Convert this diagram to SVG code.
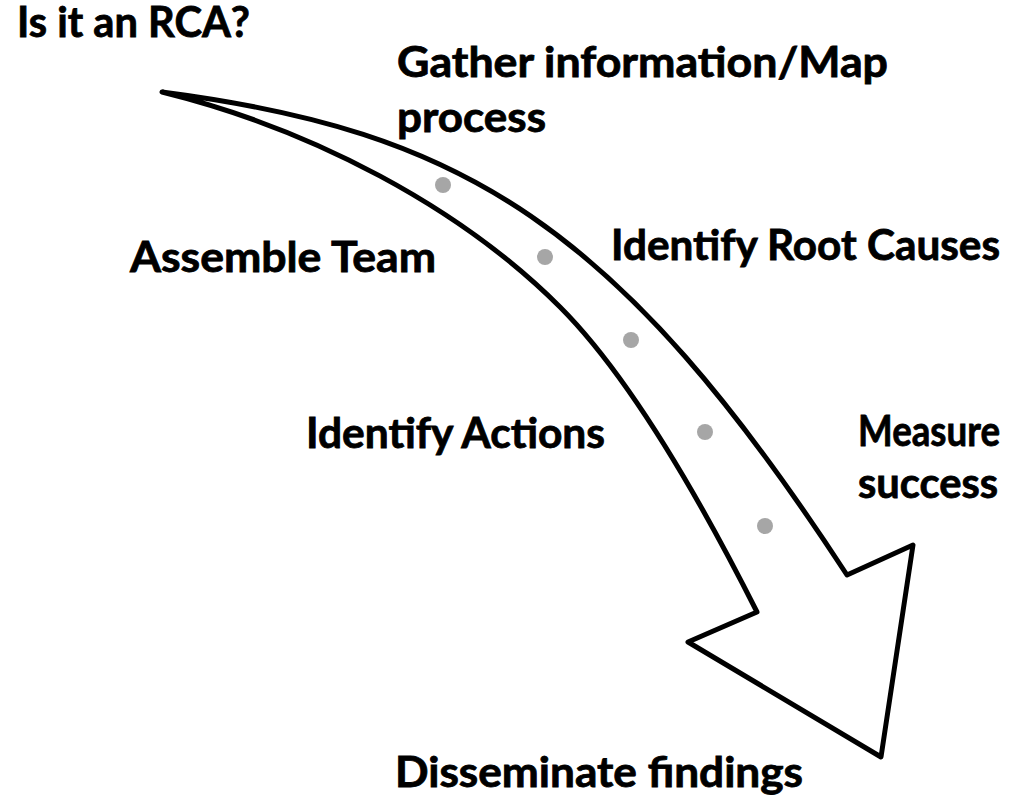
<svg xmlns="http://www.w3.org/2000/svg" width="1034" height="798" viewBox="0 0 1034 798">
  <style>
    .label { font-family: Lato, "Open Sans", "Liberation Sans", sans-serif; font-weight: 700; font-size: 42px; fill: #000; stroke: #000; stroke-width: 0.8; }
    .shaft { fill: #fff; stroke: #000; stroke-width: 5; stroke-linejoin: round; }
    .step { fill: #a6a6a6; }
  </style>
  <rect width="1034" height="798" fill="#fff"/>

  <!-- curved process arrow -->
  <g id="connectors">
    <path class="shaft" d="M 162,92 C 462,131 617,223 847,575 L 913,545 L 881,757 L 688,642 L 757,612 C 703,505 630,377 560,307 C 460,207 312,129 162,92 Z"/>
  </g>

  <!-- step markers along the arrow -->
  <g id="markers">
    <circle class="step" cx="443" cy="185" r="8"/>
    <circle class="step" cx="545" cy="257" r="8"/>
    <circle class="step" cx="631" cy="340" r="8"/>
    <circle class="step" cx="705" cy="432" r="8"/>
    <circle class="step" cx="765" cy="526" r="8"/>
  </g>

  <g id="step-rca">
    <text class="label" x="17" y="37" textLength="233" lengthAdjust="spacingAndGlyphs">Is it an RCA?</text>
  </g>
  <g id="step-gather">
    <text class="label" x="397" y="77" textLength="491" lengthAdjust="spacingAndGlyphs">Gather information/Map</text>
    <text class="label" x="397" y="132" textLength="149" lengthAdjust="spacingAndGlyphs">process</text>
  </g>
  <g id="step-team">
    <text class="label" x="130" y="272" textLength="306" lengthAdjust="spacingAndGlyphs">Assemble Team</text>
  </g>
  <g id="step-causes">
    <text class="label" x="611" y="260" textLength="389" lengthAdjust="spacingAndGlyphs">Identify Root Causes</text>
  </g>
  <g id="step-actions">
    <text class="label" x="306" y="448" textLength="299" lengthAdjust="spacingAndGlyphs">Identify Actions</text>
  </g>
  <g id="step-measure">
    <text class="label" x="858" y="446" textLength="142" lengthAdjust="spacingAndGlyphs">Measure</text>
    <text class="label" x="858" y="498" textLength="140" lengthAdjust="spacingAndGlyphs">success</text>
  </g>
  <g id="step-disseminate">
    <text class="label" x="395" y="787" textLength="408" lengthAdjust="spacingAndGlyphs">Disseminate findings</text>
  </g>
</svg>
